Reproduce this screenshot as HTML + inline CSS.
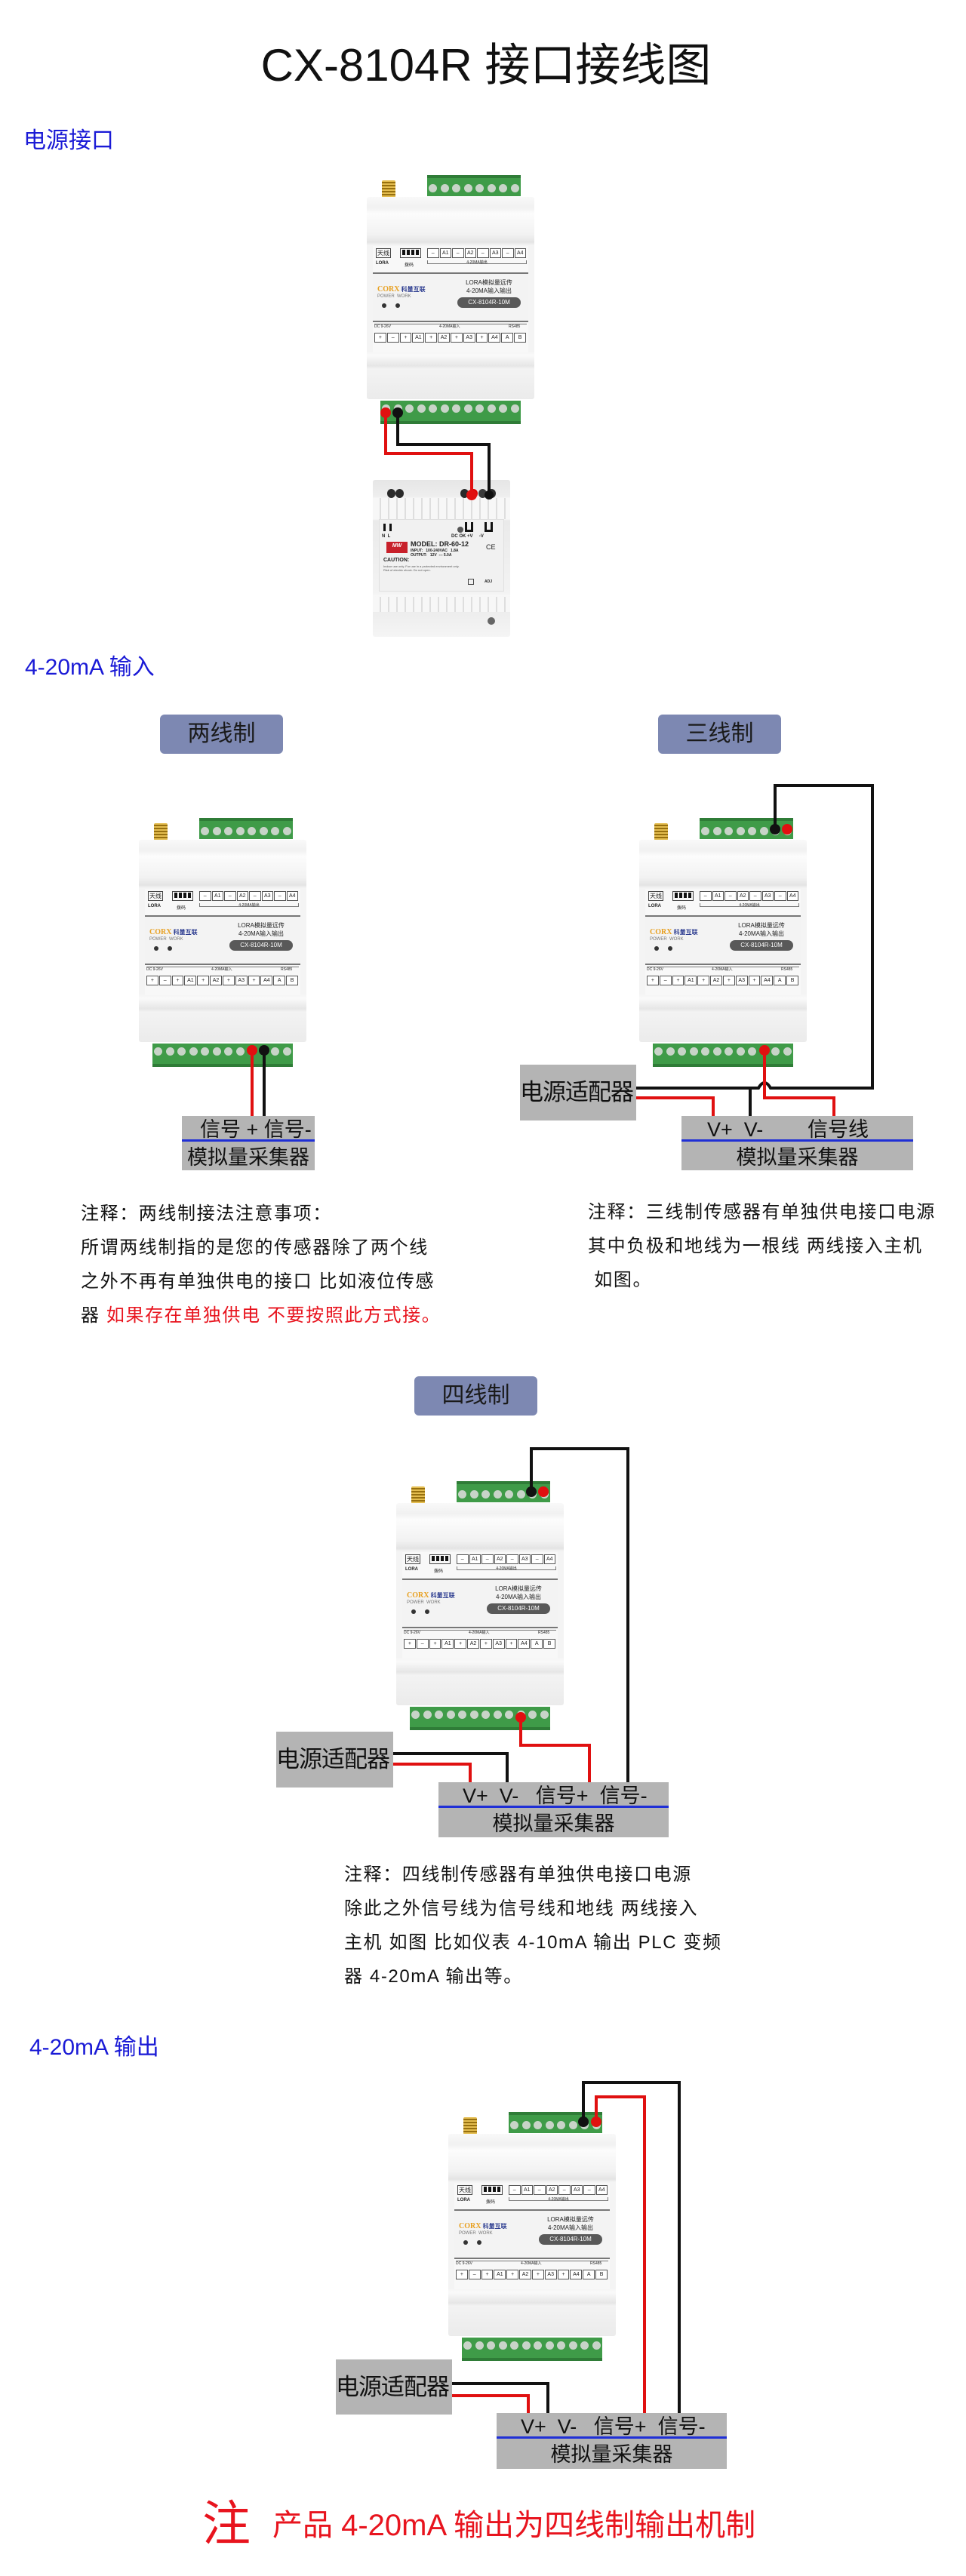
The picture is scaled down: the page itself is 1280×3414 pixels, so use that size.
<!DOCTYPE html>
<html><head><meta charset="utf-8">
<style>
*{margin:0;padding:0;box-sizing:border-box}
body{width:1280px;height:3414px;position:relative;background:#fff;font-family:"Liberation Sans","Noto Sans CJK SC",sans-serif;overflow:hidden;color:#111}
.a{position:absolute}
.h{position:absolute;color:#1a1ad6;font-size:30px;line-height:34px;white-space:nowrap}
.tag{position:absolute;width:163px;height:52px;background:#7d88b2;border-radius:6px;color:#1a1a1a;font-size:30px;line-height:52px;text-align:center}
.note{position:absolute;font-size:24px;line-height:45px;letter-spacing:1.6px;white-space:nowrap;color:#111}
.gray{position:absolute;background:#b4b4b4}
.coll{position:absolute;background:#b4b4b4;color:#111}
.coll .l1{position:absolute;left:0;top:0;right:0;height:34px;border-bottom:3px solid #1f2fd6;font-size:27px;line-height:36px;white-space:nowrap}
.coll .l2{position:absolute;left:0;top:37px;right:0;bottom:0;font-size:27px;line-height:36px;text-align:center;white-space:nowrap}
.adp{position:absolute;background:#b4b4b4;font-size:31px;line-height:74px;white-space:nowrap;letter-spacing:-1px;color:#111}
/* device */
.dev{position:absolute;width:222px;height:268px}
.ant{position:absolute;left:20px;top:-22px;width:18px;height:23px;background:repeating-linear-gradient(#e4bd50 0 2px,#97700f 2px 4px);border-radius:2px}
.tt,.bt{position:absolute;background:#3f9b48;display:flex;justify-content:space-around}
.tt{left:80px;top:-29px;width:124px;height:28px;align-items:flex-end;padding-bottom:5px;border-top:4px solid #2f7c37}
.bt{left:18px;top:270px;width:186px;height:31px;align-items:flex-start;padding-top:5px;border-bottom:4px solid #2f7c37}
.tt i,.bt i{display:block;width:11px;height:11px;border-radius:50%;background:#c8d4c8}
.bd{position:absolute;left:0;top:0;width:222px;height:268px;border-radius:3px;background:linear-gradient(#f9f9f9 0,#f1f1f1 14px,#fcfcfc 22px,#f2f2f2 50px,#e4e4e4 60px,#f4f4f4 64px,#f4f4f4 205px,#fafafa 210px,#e6e6e6 224px,#f3f3f3 228px,#ebebeb 268px)}
.p1,.p2,.p3{position:absolute;left:8px;width:206px}
.p1{top:65px;height:37px;background:#f8f8f8;border-bottom:2px solid #777}
.p2{top:102px;height:64px;background:#f3f3f3;border-bottom:2px solid #777}
.p3{top:166px;height:40px;background:#f8f8f8}
.t{position:absolute;white-space:nowrap;color:#222}
.tx{left:4px;top:3px;width:20px;height:13px;border:1px solid #444;font-size:8px;line-height:11px;text-align:center}
.dip{left:36px;top:3px;width:28px;height:13px;border:1px solid #444;display:flex;justify-content:space-around;padding:1px}
.dip b{display:block;width:4px;height:7px;background:#111}
.row{display:flex;height:13px}
.row span{flex:1;border:1px solid #555;margin-right:1px;font-size:7px;line-height:11px;text-align:center;color:#222;background:#fff}
.pill{left:112px;top:31px;width:84px;height:14px;background:#595959;border-radius:7px;color:#fff;font-size:8px;line-height:14px;text-align:center}
.dot{position:absolute;width:6px;height:6px;border-radius:50%;background:#333}
/* psu */
.psu{position:absolute;left:494px;top:636px;width:182px;height:208px;border-radius:3px;background:linear-gradient(#e6e6e6 0,#eeeeee 22px,#f6f6f6 24px,#f6f6f6 52px,#eaeaea 54px,#f3f3f3 150px,#f7f7f7 154px,#ededed 175px,#f5f5f5 208px)}
.rid{position:absolute;left:0;width:182px;background:repeating-linear-gradient(90deg,#f7f7f7 0 9px,#dedede 9px 11px)}
.scr{position:absolute;width:11px;height:12px;border-radius:50%;background:#2a2a2a}
</style></head><body>

<div class="a" style="left:0;top:52px;width:1288px;text-align:center;font-size:60px;line-height:70px;color:#111">CX-8104R 接口接线图</div>
<div class="h" style="left:31px;top:170px">电源接口</div>
<div class="h" style="left:33px;top:868px">4-20mA 输入</div>
<div class="tag" style="left:212px;top:947px">两线制</div>
<div class="tag" style="left:872px;top:947px">三线制</div>
<div class="tag" style="left:549px;top:1824px">四线制</div>
<div class="h" style="left:39px;top:2697px">4-20mA 输出</div>

<!-- PSU -->
<div class="psu">
 <div class="rid" style="top:24px;height:28px"></div>
 <div class="rid" style="top:155px;height:20px"></div>
 <div class="scr" style="left:19px;top:12px"></div><div class="scr" style="left:30px;top:12px"></div>
 <div class="scr" style="left:116px;top:12px"></div><div class="scr" style="left:128px;top:12px;background:#d00"></div><div class="scr" style="left:140px;top:12px;background:#3a3a3a"></div><div class="scr" style="left:152px;top:12px"></div>
 <div class="a" style="left:8px;top:52px;width:166px;height:96px;background:#f1f1f1;border:1px solid #e0e0e0"></div>
 <div class="a" style="left:14px;top:58px;width:3px;height:10px;background:#111"></div><div class="a" style="left:22px;top:58px;width:3px;height:10px;background:#111"></div>
 <div class="t" style="left:12px;top:72px;font-size:6px;font-weight:bold">N&nbsp;&nbsp;L</div>
 <div class="a" style="left:112px;top:62px;width:8px;height:8px;border-radius:50%;background:#555"></div>
 <div class="a" style="left:122px;top:56px;width:11px;height:13px;border:3px solid #111;border-top:none"></div>
 <div class="a" style="left:148px;top:56px;width:11px;height:13px;border:3px solid #111;border-top:none"></div>
 <div class="t" style="left:104px;top:72px;font-size:6px;font-weight:bold">DC OK +V&nbsp;&nbsp;&nbsp;&nbsp;&nbsp;-V</div>
 <div class="a" style="left:18px;top:82px;width:28px;height:15px;background:#c8202a;color:#fff;font-size:7px;font-style:italic;font-weight:bold;text-align:center;line-height:12px">MW</div>
 <div class="t" style="left:50px;top:80px;font-size:9px;font-weight:bold">MODEL: DR-60-12</div>
 <div class="t" style="left:50px;top:91px;font-size:5px;font-weight:bold">INPUT:&nbsp;&nbsp; 100-240VAC&nbsp;&nbsp; 1.8A<br>OUTPUT:&nbsp;&nbsp; 12V&nbsp; --- 5.0A</div>
 <div class="t" style="left:150px;top:84px;font-size:9px">CE</div>
 <div class="t" style="left:14px;top:103px;font-size:7px;font-weight:bold">CAUTION:</div>
 <div class="t" style="left:14px;top:112px;font-size:4px;color:#555">Indoor use only. For use in a protected environment only.<br>Risk of electric shock. Do not open.</div>
 <div class="t" style="left:148px;top:132px;font-size:5px;font-weight:bold">ADJ</div>
 <div class="a" style="left:126px;top:131px;width:8px;height:8px;border:1px solid #444"></div>
 <div class="a" style="left:152px;top:182px;width:10px;height:10px;border-radius:50%;background:#666"></div>
</div>

<!-- devices -->
<div class="dev" style="left:486px;top:261px"><div class="ant"></div><div class="tt"><i></i><i></i><i></i><i></i><i></i><i></i><i></i><i></i></div><div class="bd"><div class="p1"><div class="t tx">天线</div><div class="t" style="left:4px;top:20px;font-size:6px;font-weight:bold">LORA</div><div class="t dip"><b></b><b></b><b></b><b></b></div><div class="t" style="left:42px;top:20px;font-size:6px">拨码</div><div class="t row" style="left:72px;top:3px;width:132px"><span>–</span><span>A1</span><span>–</span><span>A2</span><span>–</span><span>A3</span><span>–</span><span>A4</span></div><div class="t" style="left:72px;top:19px;width:132px;height:5px;border:1px solid #777;border-top:none;font-size:5px;line-height:6px;text-align:center">4-20MA输出</div></div><div class="p2"><div class="t" style="left:6px;top:10px"><span style="color:#e8a020;font:bold 10px 'Liberation Serif',serif">CORX</span><span style="color:#2b3b8f;font-size:8px;font-weight:bold"> 科量互联</span></div><div class="t" style="left:6px;top:27px;font-size:6px;color:#777">POWER&nbsp; WORK</div><div class="dot" style="left:12px;top:39px"></div><div class="dot" style="left:30px;top:39px"></div><div class="t" style="left:106px;top:6px;width:96px;text-align:center;font-size:8px">LORA模拟量远传</div><div class="t" style="left:106px;top:17px;width:96px;text-align:center;font-size:8px">4-20MA输入输出</div><div class="t pill">CX-8104R-10M</div></div><div class="p3"><div class="t" style="left:2px;top:2px;width:202px;font-size:5px;border-top:1px solid #777;line-height:7px">DC 9-26V<span style="position:absolute;left:86px">4-20MA输入</span><span style="position:absolute;left:178px">RS485</span></div><div class="t row" style="left:2px;top:14px;width:202px"><span>+</span><span>–</span><span>+</span><span>A1</span><span>+</span><span>A2</span><span>+</span><span>A3</span><span>+</span><span>A4</span><span>A</span><span>B</span></div></div></div><div class="bt"><i></i><i></i><i></i><i></i><i></i><i></i><i></i><i></i><i></i><i></i><i></i><i></i></div></div>

<div class="dev" style="left:184px;top:1113px"><div class="ant"></div><div class="tt"><i></i><i></i><i></i><i></i><i></i><i></i><i></i><i></i></div><div class="bd"><div class="p1"><div class="t tx">天线</div><div class="t" style="left:4px;top:20px;font-size:6px;font-weight:bold">LORA</div><div class="t dip"><b></b><b></b><b></b><b></b></div><div class="t" style="left:42px;top:20px;font-size:6px">拨码</div><div class="t row" style="left:72px;top:3px;width:132px"><span>–</span><span>A1</span><span>–</span><span>A2</span><span>–</span><span>A3</span><span>–</span><span>A4</span></div><div class="t" style="left:72px;top:19px;width:132px;height:5px;border:1px solid #777;border-top:none;font-size:5px;line-height:6px;text-align:center">4-20MA输出</div></div><div class="p2"><div class="t" style="left:6px;top:10px"><span style="color:#e8a020;font:bold 10px 'Liberation Serif',serif">CORX</span><span style="color:#2b3b8f;font-size:8px;font-weight:bold"> 科量互联</span></div><div class="t" style="left:6px;top:27px;font-size:6px;color:#777">POWER&nbsp; WORK</div><div class="dot" style="left:12px;top:39px"></div><div class="dot" style="left:30px;top:39px"></div><div class="t" style="left:106px;top:6px;width:96px;text-align:center;font-size:8px">LORA模拟量远传</div><div class="t" style="left:106px;top:17px;width:96px;text-align:center;font-size:8px">4-20MA输入输出</div><div class="t pill">CX-8104R-10M</div></div><div class="p3"><div class="t" style="left:2px;top:2px;width:202px;font-size:5px;border-top:1px solid #777;line-height:7px">DC 9-26V<span style="position:absolute;left:86px">4-20MA输入</span><span style="position:absolute;left:178px">RS485</span></div><div class="t row" style="left:2px;top:14px;width:202px"><span>+</span><span>–</span><span>+</span><span>A1</span><span>+</span><span>A2</span><span>+</span><span>A3</span><span>+</span><span>A4</span><span>A</span><span>B</span></div></div></div><div class="bt"><i></i><i></i><i></i><i></i><i></i><i></i><i></i><i></i><i></i><i></i><i></i><i></i></div></div>

<div class="dev" style="left:847px;top:1113px"><div class="ant"></div><div class="tt"><i></i><i></i><i></i><i></i><i></i><i></i><i></i><i></i></div><div class="bd"><div class="p1"><div class="t tx">天线</div><div class="t" style="left:4px;top:20px;font-size:6px;font-weight:bold">LORA</div><div class="t dip"><b></b><b></b><b></b><b></b></div><div class="t" style="left:42px;top:20px;font-size:6px">拨码</div><div class="t row" style="left:72px;top:3px;width:132px"><span>–</span><span>A1</span><span>–</span><span>A2</span><span>–</span><span>A3</span><span>–</span><span>A4</span></div><div class="t" style="left:72px;top:19px;width:132px;height:5px;border:1px solid #777;border-top:none;font-size:5px;line-height:6px;text-align:center">4-20MA输出</div></div><div class="p2"><div class="t" style="left:6px;top:10px"><span style="color:#e8a020;font:bold 10px 'Liberation Serif',serif">CORX</span><span style="color:#2b3b8f;font-size:8px;font-weight:bold"> 科量互联</span></div><div class="t" style="left:6px;top:27px;font-size:6px;color:#777">POWER&nbsp; WORK</div><div class="dot" style="left:12px;top:39px"></div><div class="dot" style="left:30px;top:39px"></div><div class="t" style="left:106px;top:6px;width:96px;text-align:center;font-size:8px">LORA模拟量远传</div><div class="t" style="left:106px;top:17px;width:96px;text-align:center;font-size:8px">4-20MA输入输出</div><div class="t pill">CX-8104R-10M</div></div><div class="p3"><div class="t" style="left:2px;top:2px;width:202px;font-size:5px;border-top:1px solid #777;line-height:7px">DC 9-26V<span style="position:absolute;left:86px">4-20MA输入</span><span style="position:absolute;left:178px">RS485</span></div><div class="t row" style="left:2px;top:14px;width:202px"><span>+</span><span>–</span><span>+</span><span>A1</span><span>+</span><span>A2</span><span>+</span><span>A3</span><span>+</span><span>A4</span><span>A</span><span>B</span></div></div></div><div class="bt"><i></i><i></i><i></i><i></i><i></i><i></i><i></i><i></i><i></i><i></i><i></i><i></i></div></div>

<div class="dev" style="left:525px;top:1992px"><div class="ant"></div><div class="tt"><i></i><i></i><i></i><i></i><i></i><i></i><i></i><i></i></div><div class="bd"><div class="p1"><div class="t tx">天线</div><div class="t" style="left:4px;top:20px;font-size:6px;font-weight:bold">LORA</div><div class="t dip"><b></b><b></b><b></b><b></b></div><div class="t" style="left:42px;top:20px;font-size:6px">拨码</div><div class="t row" style="left:72px;top:3px;width:132px"><span>–</span><span>A1</span><span>–</span><span>A2</span><span>–</span><span>A3</span><span>–</span><span>A4</span></div><div class="t" style="left:72px;top:19px;width:132px;height:5px;border:1px solid #777;border-top:none;font-size:5px;line-height:6px;text-align:center">4-20MA输出</div></div><div class="p2"><div class="t" style="left:6px;top:10px"><span style="color:#e8a020;font:bold 10px 'Liberation Serif',serif">CORX</span><span style="color:#2b3b8f;font-size:8px;font-weight:bold"> 科量互联</span></div><div class="t" style="left:6px;top:27px;font-size:6px;color:#777">POWER&nbsp; WORK</div><div class="dot" style="left:12px;top:39px"></div><div class="dot" style="left:30px;top:39px"></div><div class="t" style="left:106px;top:6px;width:96px;text-align:center;font-size:8px">LORA模拟量远传</div><div class="t" style="left:106px;top:17px;width:96px;text-align:center;font-size:8px">4-20MA输入输出</div><div class="t pill">CX-8104R-10M</div></div><div class="p3"><div class="t" style="left:2px;top:2px;width:202px;font-size:5px;border-top:1px solid #777;line-height:7px">DC 9-26V<span style="position:absolute;left:86px">4-20MA输入</span><span style="position:absolute;left:178px">RS485</span></div><div class="t row" style="left:2px;top:14px;width:202px"><span>+</span><span>–</span><span>+</span><span>A1</span><span>+</span><span>A2</span><span>+</span><span>A3</span><span>+</span><span>A4</span><span>A</span><span>B</span></div></div></div><div class="bt"><i></i><i></i><i></i><i></i><i></i><i></i><i></i><i></i><i></i><i></i><i></i><i></i></div></div>

<div class="dev" style="left:594px;top:2828px"><div class="ant"></div><div class="tt"><i></i><i></i><i></i><i></i><i></i><i></i><i></i><i></i></div><div class="bd"><div class="p1"><div class="t tx">天线</div><div class="t" style="left:4px;top:20px;font-size:6px;font-weight:bold">LORA</div><div class="t dip"><b></b><b></b><b></b><b></b></div><div class="t" style="left:42px;top:20px;font-size:6px">拨码</div><div class="t row" style="left:72px;top:3px;width:132px"><span>–</span><span>A1</span><span>–</span><span>A2</span><span>–</span><span>A3</span><span>–</span><span>A4</span></div><div class="t" style="left:72px;top:19px;width:132px;height:5px;border:1px solid #777;border-top:none;font-size:5px;line-height:6px;text-align:center">4-20MA输出</div></div><div class="p2"><div class="t" style="left:6px;top:10px"><span style="color:#e8a020;font:bold 10px 'Liberation Serif',serif">CORX</span><span style="color:#2b3b8f;font-size:8px;font-weight:bold"> 科量互联</span></div><div class="t" style="left:6px;top:27px;font-size:6px;color:#777">POWER&nbsp; WORK</div><div class="dot" style="left:12px;top:39px"></div><div class="dot" style="left:30px;top:39px"></div><div class="t" style="left:106px;top:6px;width:96px;text-align:center;font-size:8px">LORA模拟量远传</div><div class="t" style="left:106px;top:17px;width:96px;text-align:center;font-size:8px">4-20MA输入输出</div><div class="t pill">CX-8104R-10M</div></div><div class="p3"><div class="t" style="left:2px;top:2px;width:202px;font-size:5px;border-top:1px solid #777;line-height:7px">DC 9-26V<span style="position:absolute;left:86px">4-20MA输入</span><span style="position:absolute;left:178px">RS485</span></div><div class="t row" style="left:2px;top:14px;width:202px"><span>+</span><span>–</span><span>+</span><span>A1</span><span>+</span><span>A2</span><span>+</span><span>A3</span><span>+</span><span>A4</span><span>A</span><span>B</span></div></div></div><div class="bt"><i></i><i></i><i></i><i></i><i></i><i></i><i></i><i></i><i></i><i></i><i></i><i></i></div></div>

<!-- collectors & adapters -->
<div class="coll" style="left:241px;top:1479px;width:176px;height:72px"><div class="l1" style="padding-left:24px">信号 + 信号-</div><div class="l2">模拟量采集器</div></div>
<div class="coll" style="left:903px;top:1479px;width:307px;height:72px"><div class="l1" style="padding-left:34px">V+&nbsp; V-<span style="position:absolute;left:167px">信号线</span></div><div class="l2">模拟量采集器</div></div>
<div class="adp" style="left:689px;top:1411px;width:154px;height:74px">电源适配器</div>
<div class="coll" style="left:581px;top:2362px;width:305px;height:73px"><div class="l1" style="padding-left:32px">V+&nbsp; V-&nbsp;&nbsp; 信号+&nbsp; 信号-</div><div class="l2">模拟量采集器</div></div>
<div class="adp" style="left:366px;top:2295px;width:155px;height:74px">电源适配器</div>
<div class="coll" style="left:658px;top:3198px;width:305px;height:74px"><div class="l1" style="padding-left:32px">V+&nbsp; V-&nbsp;&nbsp; 信号+&nbsp; 信号-</div><div class="l2">模拟量采集器</div></div>
<div class="adp" style="left:445px;top:3127px;width:154px;height:73px">电源适配器</div>

<!-- notes -->
<div class="note" style="left:107px;top:1586px">注释：两线制接法注意事项：<br>所谓两线制指的是您的传感器除了两个线<br>之外不再有单独供电的接口 比如液位传感<br>器 <span style="color:#e8141e">如果存在单独供电 不要按照此方式接。</span></div>
<div class="note" style="left:779px;top:1584px">注释：三线制传感器有单独供电接口电源<br>其中负极和地线为一根线 两线接入主机<br>&nbsp;如图。</div>
<div class="note" style="left:456px;top:2462px">注释：四线制传感器有单独供电接口电源<br>除此之外信号线为信号线和地线 两线接入<br>主机 如图 比如仪表 4-10mA 输出 PLC 变频<br>器 4-20mA 输出等。</div>

<div class="a" style="left:268px;top:3308px;color:#e8141e;font-size:64px;line-height:74px">注</div>
<div class="a" style="left:361px;top:3324px;color:#e8141e;font-size:40px;line-height:46px;white-space:nowrap">产品 4-20mA 输出为四线制输出机制</div>

<!-- wires -->
<svg class="a" style="left:0;top:0" width="1280" height="3414" viewBox="0 0 1280 3414" fill="none" stroke-width="4" stroke-linejoin="miter">
 <path d="M511,547 V601 H625 V656" stroke="#e01010"/>
 <path d="M527,547 V589 H648 V656" stroke="#111"/>
 <circle cx="511" cy="547" r="7" fill="#e01010" stroke="none"/><circle cx="527" cy="547" r="7" fill="#111" stroke="none"/>
 <circle cx="625" cy="656" r="7" fill="#e01010" stroke="none"/><circle cx="648" cy="656" r="6" fill="#111" stroke="none"/>

 <path d="M334,1393 V1479" stroke="#e01010"/><path d="M350,1393 V1479" stroke="#111"/>
 <circle cx="334" cy="1392" r="7" fill="#e01010" stroke="none"/><circle cx="350" cy="1392" r="7" fill="#111" stroke="none"/>

 <path d="M1027,1099 V1041 H1156 V1442 H1021 Q1013,1428 1005,1442 H843" stroke="#111"/>
 <path d="M994,1442 V1479" stroke="#111"/>
 <path d="M843,1455 H945 V1479" stroke="#e01010"/>
 <path d="M1013,1393 V1455 H1105 V1479" stroke="#e01010"/>
 <circle cx="1027" cy="1099" r="7" fill="#111" stroke="none"/><circle cx="1043" cy="1099" r="7" fill="#e01010" stroke="none"/>
 <circle cx="1013" cy="1392" r="7" fill="#e01010" stroke="none"/>

 <path d="M704,1977 V1920 H832 V2362" stroke="#111"/>
 <path d="M690,2277 V2313 H781 V2362" stroke="#e01010"/>
 <path d="M521,2324 H672 V2362" stroke="#111"/>
 <path d="M521,2338 H623 V2362" stroke="#e01010"/>
 <circle cx="704" cy="1977" r="7" fill="#111" stroke="none"/><circle cx="720" cy="1977" r="7" fill="#e01010" stroke="none"/>
 <circle cx="690" cy="2276" r="7" fill="#e01010" stroke="none"/>

 <path d="M773,2812 V2760 H900 V3198" stroke="#111"/>
 <path d="M790,2812 V2779 H854 V3198" stroke="#e01010"/>
 <path d="M599,3159 H726 V3198" stroke="#111"/>
 <path d="M599,3175 H700 V3198" stroke="#e01010"/>
 <circle cx="773" cy="2812" r="7" fill="#111" stroke="none"/><circle cx="790" cy="2812" r="7" fill="#e01010" stroke="none"/>
</svg>
</body></html>
